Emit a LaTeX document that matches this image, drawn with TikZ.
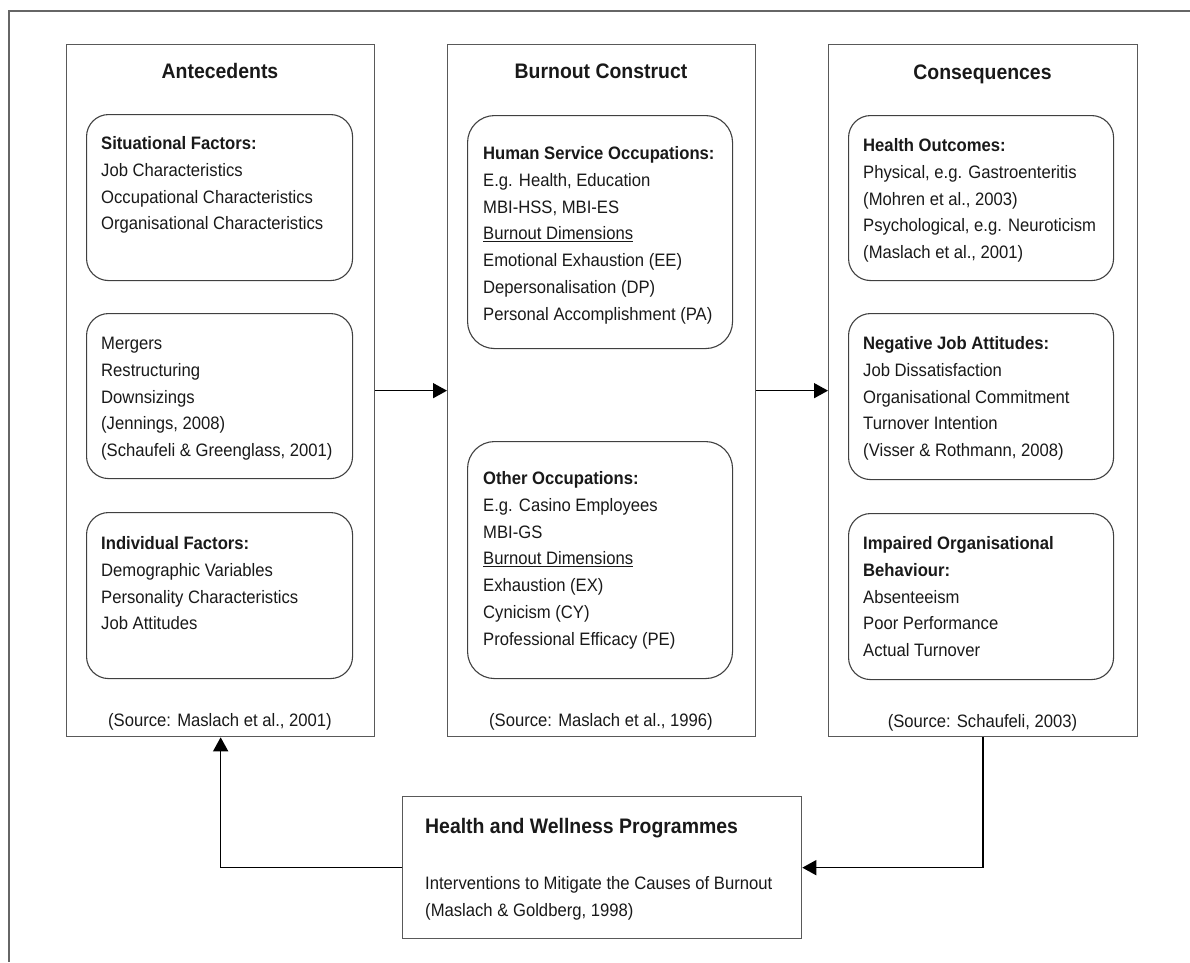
\documentclass[tikz,border=0pt]{standalone}
\usepackage{fontspec}
\setmainfont{Liberation Sans}[FakeStretch=0.925]
\usetikzlibrary{arrows.meta,calc}
\begin{document}
\begin{tikzpicture}[x=1pt,y=-1pt,
  frame/.style={draw=black!60, line width=1.2pt},
  obox/.style={draw=black!65, line width=1.3pt, anchor=north west, inner sep=0pt},
  ibox/.style={draw=black!75, line width=1.1pt, rounded corners=22pt, anchor=north west, inner sep=0pt},
  mbox/.style={ibox, rounded corners=27pt},
  ttl/.style={font=\fontsize{21}{25}\selectfont\bfseries, anchor=base, inner sep=0pt, text=black!90},
  htl/.style={ttl, anchor=base west},
  txt/.style={font=\fontsize{18}{26.8}\selectfont, anchor=base west, inner sep=0pt, text=black!90},
  src/.style={txt, anchor=base},
  arr/.style={-{Triangle[length=14pt,width=15pt]}, line width=1.5pt, draw=black}
]
\useasboundingbox (0,0) rectangle (1190,962);
\draw[frame] (1190,11) -- (9,11) -- (9,962);

% outer boxes
\node[obox, minimum width=308pt, minimum height=692pt] (ant) at (66,44) {};
\node[obox, minimum width=308pt, minimum height=692pt] (bur) at (447,44) {};
\node[obox, minimum width=309pt, minimum height=692pt] (con) at (828,44) {};
\node[obox, minimum width=399pt, minimum height=142pt] (hw) at (402,796) {};

% titles
\node[ttl] (antT) at (220,78.5) {Antecedents};
\node[ttl] (burT) at (601,78.5) {Burnout Construct};
\node[ttl] (conT) at (982.5,79.5) {Consequences};

% antecedents inner boxes
\node[ibox, minimum width=266pt, minimum height=166pt] (sit) at (86,114) {};
\node[ibox, minimum width=266pt, minimum height=165pt] (mer) at (86,313) {};
\node[ibox, minimum width=266pt, minimum height=166pt] (ind) at (86,512) {};
\node[txt] (sitT) at (101,149.5) {\begin{tabular}[t]{@{}l@{}}\textbf{Situational Factors:}\\Job Characteristics\\Occupational Characteristics\\Organisational Characteristics\end{tabular}};
\node[txt] (merT) at (101,349.5) {\begin{tabular}[t]{@{}l@{}}Mergers\\Restructuring\\Downsizings\\(Jennings, 2008)\\(Schaufeli \& Greenglass, 2001)\end{tabular}};
\node[txt] (indT) at (101,549.5) {\begin{tabular}[t]{@{}l@{}}\textbf{Individual Factors:}\\Demographic Variables\\Personality Characteristics\\Job Attitudes\end{tabular}};
\node[src] (antS) at (220,726.5) {(Source: Maslach et al., 2001)};

% burnout inner boxes
\node[mbox, minimum width=265pt, minimum height=233pt] (hum) at (467,115) {};
\node[mbox, minimum width=265pt, minimum height=237pt] (oth) at (467,441) {};
\node[txt] (humT) at (483,159.5) {\begin{tabular}[t]{@{}l@{}}\textbf{Human Service Occupations:}\\E.g. Health, Education\\MBI-HSS, MBI-ES\\\underline{Burnout Dimensions}\\Emotional Exhaustion (EE)\\Depersonalisation (DP)\\Personal Accomplishment (PA)\end{tabular}};
\node[txt] (othT) at (483,484.5) {\begin{tabular}[t]{@{}l@{}}\textbf{Other Occupations:}\\E.g. Casino Employees\\MBI-GS\\\underline{Burnout Dimensions}\\Exhaustion (EX)\\Cynicism (CY)\\Professional Efficacy (PE)\end{tabular}};
\node[src] (burS) at (601,726.5) {(Source: Maslach et al., 1996)};

% consequences inner boxes
\node[ibox, minimum width=265pt, minimum height=165pt] (hea) at (848,115) {};
\node[ibox, minimum width=265pt, minimum height=166pt] (neg) at (848,313) {};
\node[ibox, minimum width=265pt, minimum height=166pt] (imp) at (848,513) {};
\node[txt] (heaT) at (863,151.5) {\begin{tabular}[t]{@{}l@{}}\textbf{Health Outcomes:}\\Physical, e.g. Gastroenteritis\\(Mohren et al., 2003)\\Psychological, e.g. Neuroticism\\(Maslach et al., 2001)\end{tabular}};
\node[txt] (negT) at (863,349.5) {\begin{tabular}[t]{@{}l@{}}\textbf{Negative Job Attitudes:}\\Job Dissatisfaction\\Organisational Commitment\\Turnover Intention\\(Visser \& Rothmann, 2008)\end{tabular}};
\node[txt] (impT) at (863,549.5) {\begin{tabular}[t]{@{}l@{}}\textbf{Impaired Organisational}\\\textbf{Behaviour:}\\Absenteeism\\Poor Performance\\Actual Turnover\end{tabular}};
\node[src] (conS) at (982.5,727.5) {(Source: Schaufeli, 2003)};

% health and wellness box
\node[htl] (hwT) at (425,833.5) {Health and Wellness Programmes};
\node[txt] (hwB) at (425,889.5) {\begin{tabular}[t]{@{}l@{}}Interventions to Mitigate the Causes of Burnout\\(Maslach \& Goldberg, 1998)\end{tabular}};

% connectors
\draw[arr] (ant) -- (bur);
\draw[arr] (bur) -- (con);
\draw[arr] (con.south) |- (hw.east);
\draw[arr] (hw.west) -| (ant.south);
\end{tikzpicture}
\end{document}
